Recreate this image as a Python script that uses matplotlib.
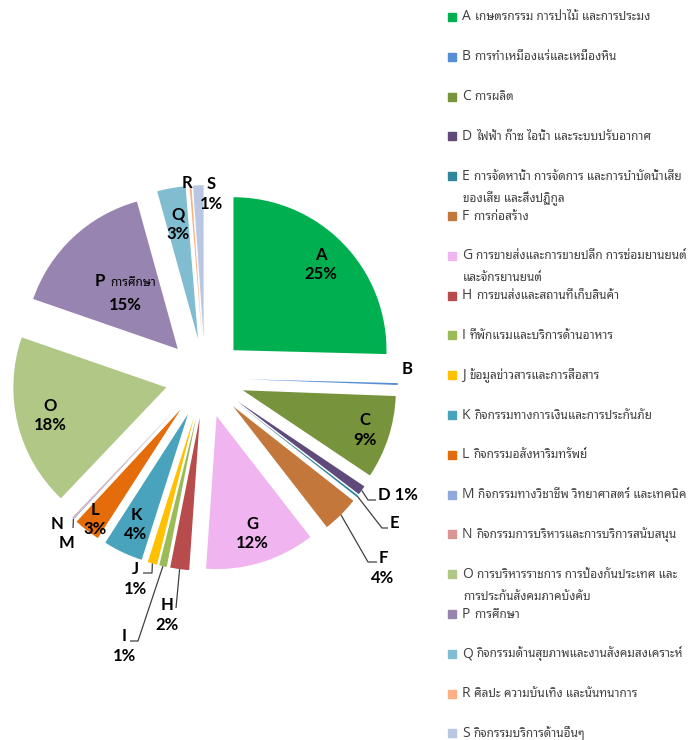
import math
import matplotlib
matplotlib.use("Agg")
import matplotlib.pyplot as plt
from matplotlib.patches import Rectangle

# ข้อมูลสัดส่วนตามหมวดอุตสาหกรรม (อ่านค่าจากภาพ)
codes = ["A", "B", "C", "D", "E", "F", "G", "H", "I", "J",
         "K", "L", "M", "N", "O", "P", "Q", "R", "S"]
sectors = [
    "เกษตรกรรม การป่าไม้ และการประมง",
    "การทำเหมืองแร่และเหมืองหิน",
    "การผลิต",
    "ไฟฟ้า ก๊าซ ไอน้ำ และระบบปรับอากาศ",
    "การจัดหาน้ำ การจัดการ และการบำบัดน้ำเสีย\nของเสีย และสิ่งปฏิกูล",
    "การก่อสร้าง",
    "การขายส่งและการขายปลีก การซ่อมยานยนต์\nและจักรยานยนต์",
    "การขนส่งและสถานที่เก็บสินค้า",
    "ที่พักแรมและบริการด้านอาหาร",
    "ข้อมูลข่าวสารและการสื่อสาร",
    "กิจกรรมทางการเงินและการประกันภัย",
    "กิจกรรมอสังหาริมทรัพย์",
    "กิจกรรมทางวิชาชีพ วิทยาศาสตร์ และเทคนิค",
    "กิจกรรมการบริหารและการบริการสนับสนุน",
    "การบริหารราชการ การป้องกันประเทศ และ\nการประกันสังคมภาคบังคับ",
    "การศึกษา",
    "กิจกรรมด้านสุขภาพและงานสังคมสงเคราะห์",
    "ศิลปะ ความบันเทิง และนันทนาการ",
    "กิจกรรมบริการด้านอื่นๆ",
]
shares = [25.4, 0.2, 8.8, 1.0, 0.2, 3.9, 11.6, 2.0, 0.8, 1.0,
          4.2, 2.8, 0.1, 0.1, 18.2, 15.4, 3.0, 0.2, 1.1]
shown_pct = ["25%", "", "9%", "1%", "", "4%", "12%", "2%", "1%", "1%",
             "4%", "3%", "", "", "18%", "15%", "3%", "", "1%"]
colors = ["#00B050", "#558ED5", "#77933C", "#604A7B", "#31859C", "#C4773A",
          "#F0B4F0", "#B84B4B", "#9BBB59", "#FFC000", "#4AA3BC", "#E46C0A",
          "#8EA9DB", "#D99694", "#B0C786", "#9884B0", "#80BDD1", "#FCB084",
          "#B9C7E3"]

W, H = 691, 740
CX, CY, R_PX = 205, 378, 153   # จุดศูนย์กลางและรัศมีของวงกลม (พิกเซล)

thai = ["Noto Sans Thai Looped", "Noto Sans Thai", "Sarabun", "Anuphan"]
lab_font = ["Lato"] + thai
leg_font = ["Open Sans"] + thai
txt_col = "#404040"


def px(x, y):
    return ((x - CX) / R_PX, (CY - y) / R_PX)


fig = plt.figure(figsize=(W / 100, H / 100), dpi=100)
ax = fig.add_axes([0, 0, 1, 1])
wedges, _ = ax.pie(shares, explode=[0.26] * len(shares), colors=colors,
                   startangle=90, counterclock=False,
                   wedgeprops=dict(linewidth=0))
ax.set_xlim(-CX / R_PX, (W - CX) / R_PX)
ax.set_ylim(-(H - CY) / R_PX, CY / R_PX)
ax.axis("off")


def edge_point(i, frac=1.0):
    w = wedges[i]
    mid = math.radians((w.theta1 + w.theta2) / 2)
    return (w.center[0] + frac * w.r * math.cos(mid),
            w.center[1] + frac * w.r * math.sin(mid))


lab_kw = dict(ha="center", va="center", fontsize=12, fontweight="bold",
              family=lab_font, linespacing=1.25, color="black")

# ป้ายภายในชิ้น
inside = {"A": 0.8, "C": 0.84, "G": 0.8, "K": 0.8, "L": 0.91, "O": 0.78, "Q": 0.76}
for code, frac in inside.items():
    i = codes.index(code)
    ax.text(*edge_point(i, frac), code + "\n" + shown_pct[i], **lab_kw)

# ป้าย P (มีชื่อหมวดภาษาไทย)
ip = codes.index("P")
pp = edge_point(ip, 0.5)
ax.annotate("P", pp, xytext=(-26, 12), textcoords="offset pixels",
            ha="center", va="center", fontsize=12, fontweight="bold",
            family=lab_font)
ax.annotate(sectors[ip], pp, xytext=(-15, 11), textcoords="offset pixels",
            ha="left", va="center", fontsize=8.5, fontweight="bold",
            family=thai)
ax.annotate(shown_pct[ip], pp, xytext=(0, -12), textcoords="offset pixels",
            ha="center", va="center", fontsize=12, fontweight="bold",
            family=lab_font)

# ป้ายภายนอก + เส้นโยง (พิกเซล)
outside = {
    "B": ((407, 369), []),
    "D": ((398, 495), [(368, 500), (376, 500)]),
    "E": ((394, 523), [(382, 528), (388, 528)]),
    "F": ((383, 568), [(368, 562), (377, 562)]),
    "H": ((167, 615), [(176, 608)]),
    "I": ((124, 646), [(138, 641), (130, 641)]),
    "J": ((135, 579), [(152, 573), (143, 573)]),
    "M": ((66, 543), [(73, 528)]),
    "N": ((57, 524), []),
    "R": ((187, 183), []),
    "S": ((211, 194), []),
}
for code, (tpos, leader) in outside.items():
    i = codes.index(code)
    if code == "D":
        s = code + " " + shown_pct[i]
    elif shown_pct[i]:
        s = code + "\n" + shown_pct[i]
    else:
        s = code
    ax.text(*px(*tpos), s, **lab_kw)
    if leader:
        pts = [edge_point(i)] + [px(*p) for p in leader]
        ax.plot([p[0] for p in pts], [p[1] for p in pts],
                color=txt_col, lw=0.9, solid_capstyle="butt")

# คำอธิบายสัญลักษณ์ (legend)
renderer = fig.canvas.get_renderer()
for i, code in enumerate(codes):
    y = 17 + i * 39.8
    fig.patches.append(Rectangle((448 / W, 1 - (y + 4) / H), 8 / W, 8 / H,
                                 transform=fig.transFigure, color=colors[i]))
    t = fig.text(462 / W, 1 - y / H, code, ha="left", va="center",
                 fontsize=10, family=leg_font, color=txt_col)
    bb = t.get_window_extent(renderer)
    lines = sectors[i].split("\n")
    fig.text((bb.x1 + 4) / W, 1 - y / H, lines[0], ha="left", va="center",
             fontsize=8.5, family=thai, color=txt_col)
    if len(lines) > 1:
        fig.text(463 / W, 1 - (y + 22) / H, lines[1], ha="left", va="center",
                 fontsize=8.5, family=thai, color=txt_col)

fig.savefig("out.png", dpi=100)
